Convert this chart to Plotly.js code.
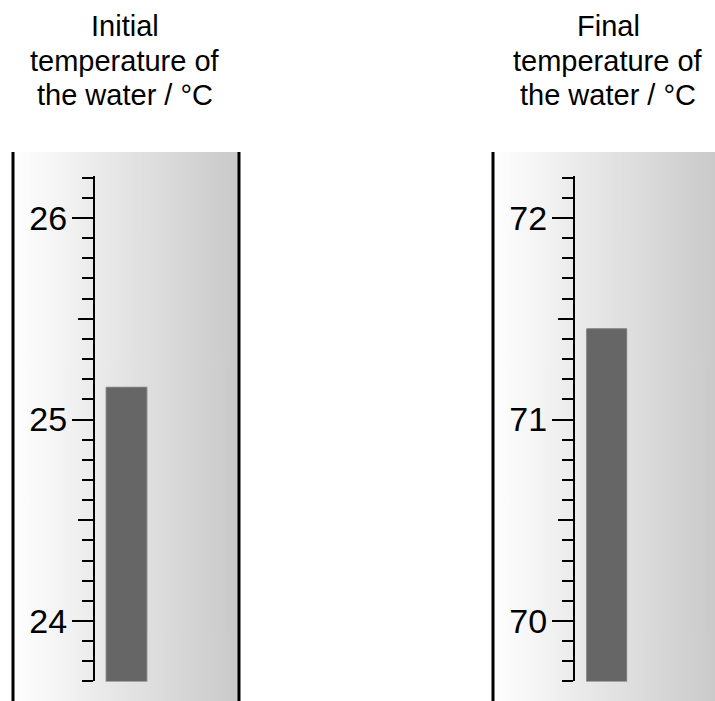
<!DOCTYPE html>
<html>
<head>
<meta charset="utf-8">
<script src="https://cdn.plot.ly/plotly-3.0.1.min.js"></script>
<style>html,body{margin:0;padding:0;background:#fff;}#chart{width:715px;height:701px;}</style>
</head>
<body>
<div id="chart"></div>
<script>
// ---- data ----
const categories = ['Initial', 'Final'];
const initialTemp = [25.16];
const finalTemp = [71.45];
const leftTicks = [24, 25, 26];
const rightTicks = [70, 71, 72];
const leftHalfTicks = [24.5, 25.5];
const rightHalfTicks = [70.5, 71.5];
const leftRange = [23.7, 26.21];
const rightRange = [69.7, 72.21];
const titleLines = [
  ['Initial', 'temperature of', 'the water / °C'],
  ['Final', 'temperature of', 'the water / °C']
];

// ---- geometry helpers ----
const W = 715, H = 701;
const fx = x => x / W;
const fy = y => 1 - y / H;
const FONT = 'Arial, "Liberation Sans", sans-serif';

// gradient background image
const cv = document.createElement('canvas');
cv.width = 256; cv.height = 4;
const ctx = cv.getContext('2d');
const g = ctx.createLinearGradient(0, 0, 256, 0);
g.addColorStop(0, '#ffffff');
g.addColorStop(1, '#c9c9c9');
ctx.fillStyle = g; ctx.fillRect(0, 0, 256, 4);
const gradSrc = cv.toDataURL('image/png');

const yDomain = [fy(681.45), fy(175.7)];

function yAx(range, ticks) {
  return {
    anchor: 'x', domain: yDomain, range: range, automargin: false,
    showline: true, linewidth: 2, linecolor: '#000',
    ticks: 'outside', ticklen: 21, tickwidth: 2, tickcolor: '#000',
    tickvals: ticks, ticktext: ticks.map(String), ticklabelstandoff: -2,
    tickfont: {family: FONT, size: 34, color: '#000'},
    showgrid: false, zeroline: false, fixedrange: true,
    minor: {dtick: 0.1, tick0: 0, ticks: 'outside', ticklen: 11, tickwidth: 2, tickcolor: '#000', showgrid: false}
  };
}
function halfAx(range, ticks, over, anchor) {
  return {
    overlaying: over, anchor: anchor, side: 'left', domain: yDomain, range: range, automargin: false,
    showline: false, ticks: 'outside', ticklen: 16, tickwidth: 2, tickcolor: '#000',
    tickvals: ticks, showticklabels: false, showgrid: false, zeroline: false
  };
}

const barStyle = {color: '#666666', line: {color: '#7a7a7a', width: 1}};

const data = [
  {type: 'bar', x: [categories[0]], y: initialTemp, xaxis: 'x', yaxis: 'y', width: 0.646,
   marker: barStyle, hoverinfo: 'skip', showlegend: false},
  {type: 'bar', x: [categories[1]], y: finalTemp, xaxis: 'x2', yaxis: 'y2', width: 0.63,
   marker: barStyle, hoverinfo: 'skip', showlegend: false},
  {type: 'scatter', mode: 'markers', x: [categories[0]], y: initialTemp, xaxis: 'x', yaxis: 'y3',
   marker: {opacity: 0}, hoverinfo: 'skip', showlegend: false},
  {type: 'scatter', mode: 'markers', x: [categories[1]], y: finalTemp, xaxis: 'x2', yaxis: 'y4',
   marker: {opacity: 0}, hoverinfo: 'skip', showlegend: false}
];

const annotations = [];
const titleX = [125, 608];
const lineY = [26, 60.5, 95];
titleLines.forEach((lines, i) => {
  lines.forEach((t, j) => {
    annotations.push({
      text: t, xref: 'paper', yref: 'paper', x: fx(titleX[i]), y: fy(lineY[j]),
      xanchor: 'center', yanchor: 'middle', showarrow: false,
      font: {family: FONT, size: 29, color: '#000'}
    });
  });
});

const lineShape = x => ({type: 'line', xref: 'paper', yref: 'paper', x0: fx(x), x1: fx(x), y0: 0, y1: fy(152),
  line: {color: '#000', width: 3}, layer: 'above'});

const layout = {
  width: W, height: H,
  margin: {l: 0, r: 0, t: 0, b: 0, pad: 0},
  paper_bgcolor: '#ffffff', plot_bgcolor: 'rgba(0,0,0,0)',
  showlegend: false,
  xaxis: {domain: [fx(95), fx(158)], range: [-0.5, 0.5], visible: false, fixedrange: true},
  xaxis2: {domain: [fx(575), fx(638.4)], range: [-0.5, 0.5], visible: false, fixedrange: true},
  yaxis: yAx(leftRange, leftTicks),
  yaxis2: Object.assign(yAx(rightRange, rightTicks), {anchor: 'x2'}),
  yaxis3: halfAx(leftRange, leftHalfTicks, 'y', 'x'),
  yaxis4: halfAx(rightRange, rightHalfTicks, 'y2', 'x2'),
  images: [
    {source: gradSrc, xref: 'paper', yref: 'paper', x: fx(13), y: fy(152), sizex: 226 / W, sizey: (H - 152) / H,
     sizing: 'stretch', xanchor: 'left', yanchor: 'top', layer: 'below'},
    {source: gradSrc, xref: 'paper', yref: 'paper', x: fx(493), y: fy(152), sizex: 226 / W, sizey: (H - 152) / H,
     sizing: 'stretch', xanchor: 'left', yanchor: 'top', layer: 'below'}
  ],
  shapes: [lineShape(13), lineShape(239), lineShape(493)],
  annotations: annotations
};

Plotly.newPlot('chart', data, layout, {displayModeBar: false, staticPlot: true});
</script>
</body>
</html>
